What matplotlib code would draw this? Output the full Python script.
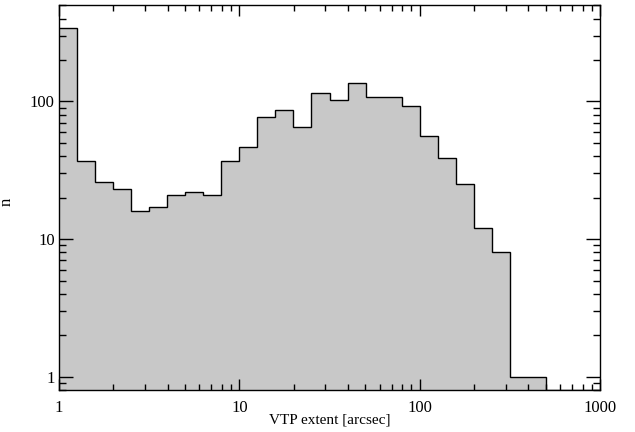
import numpy as np
import matplotlib
matplotlib.use("Agg")
import matplotlib.pyplot as plt
from matplotlib.ticker import LogLocator, FixedLocator, NullFormatter

# Log-spaced bins, 0.1 dex wide, from 1 to 1000 arcsec
bin_exponents = np.arange(0, 3.01, 0.1)
counts = [342, 37, 26, 23, 16, 17, 21, 22, 21, 37,
          47, 77, 87, 65, 115, 102, 137, 107, 107, 92,
          56, 39, 25, 12, 8, 1, 1, 0, 0, 0]

x_ticks = [1, 10, 100, 1000]
x_ticklabels = ["1", "10", "100", "1000"]
y_ticks = [1, 10, 100]
y_ticklabels = ["1", "10", "100"]

plt.rcParams["font.family"] = ["Liberation Serif", "DejaVu Serif"]
plt.rcParams["font.size"] = 12

edges = 10.0 ** bin_exponents
ymin, ymax = 0.8, 500
# empty bins sit on the bottom of the log axis
vals = np.maximum(np.array(counts, dtype=float), ymin)

fig = plt.figure(figsize=(6.35, 4.32), dpi=100)
ax = fig.add_axes([0.0929, 0.0972, 0.852, 0.8905])

ax.stairs(vals, edges, baseline=ymin, fill=True, color="#c8c8c8", zorder=1)
ax.stairs(vals, edges, baseline=None, color="black", linewidth=1.0, zorder=2)

ax.set_xscale("log")
ax.set_yscale("log")
ax.set_xlim(1, 1000)
ax.set_ylim(ymin, ymax)

ax.xaxis.set_major_locator(FixedLocator(x_ticks))
ax.set_xticklabels(x_ticklabels)
ax.yaxis.set_major_locator(FixedLocator(y_ticks))
ax.set_yticklabels(y_ticklabels)
ax.xaxis.set_minor_locator(LogLocator(base=10, subs=np.arange(2, 10)))
ax.yaxis.set_minor_locator(LogLocator(base=10, subs=np.arange(2, 10)))
ax.xaxis.set_minor_formatter(NullFormatter())
ax.yaxis.set_minor_formatter(NullFormatter())

ax.tick_params(which="both", direction="in", top=True, right=True,
               width=1.0, color="black")
ax.tick_params(axis="y", which="major", length=10, pad=3)
ax.tick_params(axis="y", which="minor", length=5)
ax.tick_params(axis="x", which="major", length=8, pad=7)
ax.tick_params(axis="x", which="minor", length=4)

for s in ax.spines.values():
    s.set_linewidth(1.0)

ax.set_xlabel("VTP extent [arcsec]", fontsize=11, va="center")
ax.xaxis.set_label_coords(0.5, -0.079)
ax.set_ylabel("n")
ax.yaxis.set_label_coords(-0.081, 0.49)

fig.savefig("out.png", dpi=100)
